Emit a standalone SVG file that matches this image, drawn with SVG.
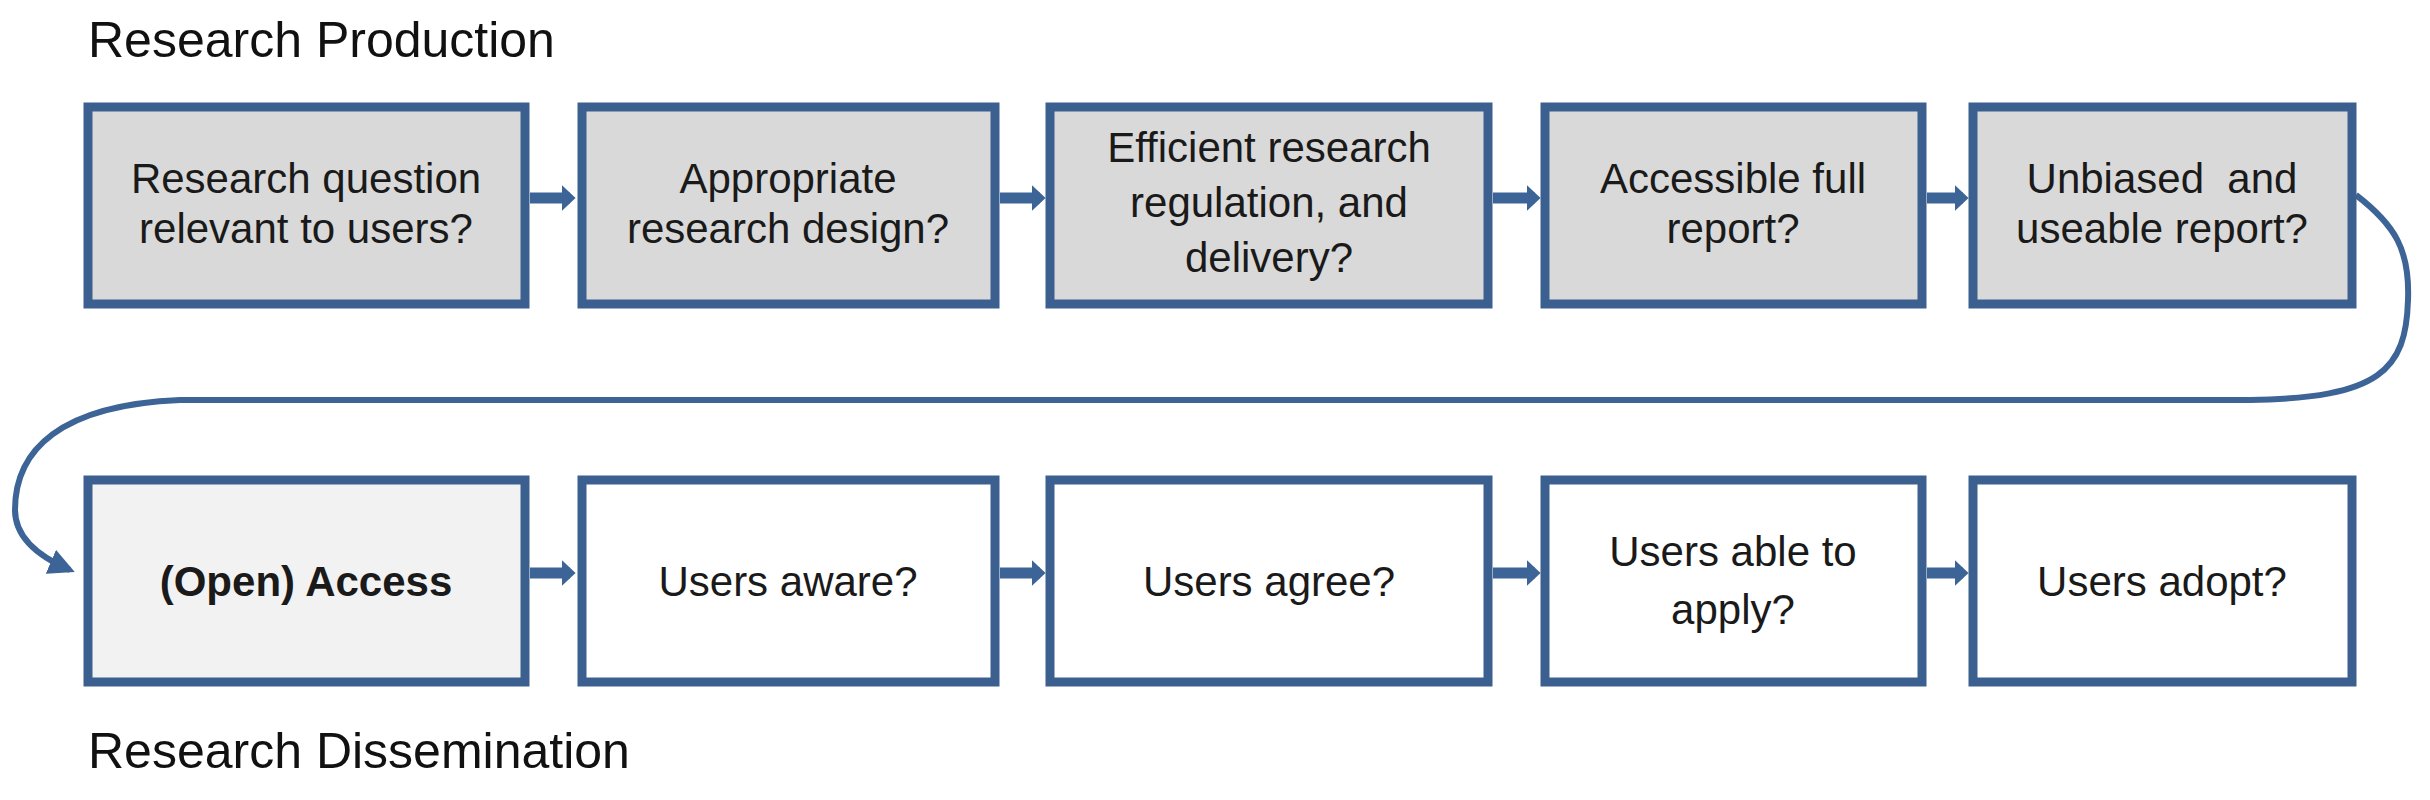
<svg xmlns="http://www.w3.org/2000/svg" width="2430" height="800" viewBox="0 0 2430 800">
<style>
.box{stroke:#3b6090;stroke-width:9}
.top{fill:#d9d9d9}
.wh{fill:#ffffff}
.oa{fill:#f2f2f2}
.t{font-family:"Liberation Sans",Arial,sans-serif;font-size:42px;fill:#1a1a1a;text-anchor:middle}
.h{font-family:"Liberation Sans",Arial,sans-serif;font-size:50px;fill:#111}
.c{stroke:#3d6496;stroke-width:11;fill:none}
</style>
<defs>
<marker id="ah" viewBox="0 0 10 10" markerWidth="14" markerHeight="26" refX="6" refY="5" orient="auto" markerUnits="userSpaceOnUse" preserveAspectRatio="none">
<path d="M0,0 L10,5 L0,10 Z" fill="#3d6496"/>
</marker>
<marker id="ah2" viewBox="0 0 10 10" markerWidth="26" markerHeight="26" refX="8" refY="5" orient="auto" markerUnits="userSpaceOnUse">
<path d="M0,0 L10,5 L0,10 Z" fill="#3d6496"/>
</marker>
</defs>
<rect width="2430" height="800" fill="#fff"/>
<text class="h" x="88" y="57">Research Production</text>
<text class="h" x="88" y="768">Research Dissemination</text>
<g id="connectors">
<line class="c" x1="530" y1="198" x2="570" y2="198" marker-end="url(#ah)"/>
<line class="c" x1="1000" y1="198" x2="1040" y2="198" marker-end="url(#ah)"/>
<line class="c" x1="1493" y1="198" x2="1535" y2="198" marker-end="url(#ah)"/>
<line class="c" x1="1927" y1="198" x2="1963" y2="198" marker-end="url(#ah)"/>
<line class="c" x1="530" y1="573" x2="570" y2="573" marker-end="url(#ah)"/>
<line class="c" x1="1000" y1="573" x2="1040" y2="573" marker-end="url(#ah)"/>
<line class="c" x1="1493" y1="573" x2="1535" y2="573" marker-end="url(#ah)"/>
<line class="c" x1="1927" y1="573" x2="1963" y2="573" marker-end="url(#ah)"/>
<path d="M2356,195 C2395,225 2410,250 2408,300 C2406,370 2380,398 2250,400 L180,400 C60,405 15,450 15,510 C15,535 35,555 70,570" fill="none" stroke="#3d6496" stroke-width="6" marker-end="url(#ah2)"/>
</g>
<g id="n1"><rect class="box top" x="88" y="107" width="437" height="197"/><text class="t" x="306" y="193">Research question</text><text class="t" x="306" y="243">relevant to users?</text></g>
<g id="n2"><rect class="box top" x="582" y="107" width="413" height="197"/><text class="t" x="788" y="193">Appropriate</text><text class="t" x="788" y="243">research design?</text></g>
<g id="n3"><rect class="box top" x="1050" y="107" width="438" height="197"/><text class="t" x="1269" y="162">Efficient research</text><text class="t" x="1269" y="217">regulation, and</text><text class="t" x="1269" y="272">delivery?</text></g>
<g id="n4"><rect class="box top" x="1545" y="107" width="377" height="197"/><text class="t" x="1733" y="193">Accessible full</text><text class="t" x="1733" y="243">report?</text></g>
<g id="n5"><rect class="box top" x="1973" y="107" width="379" height="197"/><text class="t" x="2162" y="193" xml:space="preserve">Unbiased  and</text><text class="t" x="2162" y="243">useable report?</text></g>
<g id="n6"><rect class="box oa" x="88" y="480" width="437" height="202"/><text class="t" x="306" y="596" font-weight="bold">(Open) Access</text></g>
<g id="n7"><rect class="box wh" x="582" y="480" width="413" height="202"/><text class="t" x="788" y="596">Users aware?</text></g>
<g id="n8"><rect class="box wh" x="1050" y="480" width="438" height="202"/><text class="t" x="1269" y="596">Users agree?</text></g>
<g id="n9"><rect class="box wh" x="1545" y="480" width="377" height="202"/><text class="t" x="1733" y="566">Users able to</text><text class="t" x="1733" y="624">apply?</text></g>
<g id="n10"><rect class="box wh" x="1973" y="480" width="379" height="202"/><text class="t" x="2162" y="596">Users adopt?</text></g>
</svg>
